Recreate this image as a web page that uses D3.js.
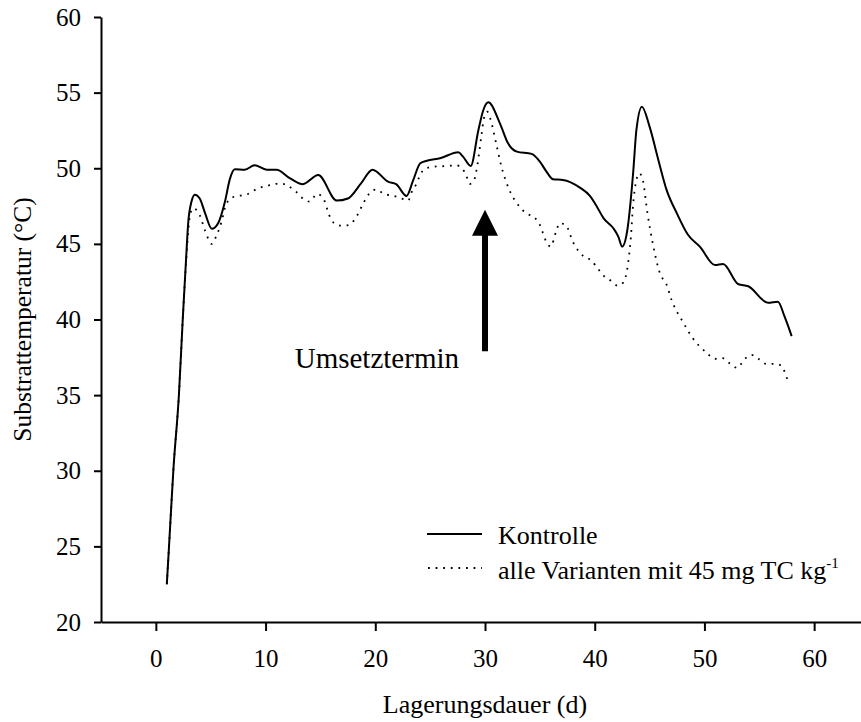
<!DOCTYPE html>
<html>
<head>
<meta charset="utf-8">
<script src="https://cdn.jsdelivr.net/npm/d3@7"></script>
<style>
  body { margin: 0; background: #fff; }
  svg text { font-family: "Liberation Serif", "Times New Roman", serif; fill: #000; }
</style>
</head>
<body>
<div id="chart"></div>
<script>
// Lagerungsdauer (d) / Substrattemperatur (°C)
var kontrolle = [
  [1.0,22.5],[1.2,25.0],[1.6,30.1],[2.1,35.0],[2.45,40.0],[2.8,44.6],[2.95,46.4],[3.25,47.8],
  [3.55,48.25],[4.0,48.0],[4.5,47.0],[5.1,46.0],[5.7,46.4],[6.3,47.8],[6.75,49.3],[7.2,49.93],
  [8.1,49.9],[9.0,50.2],[10.1,49.9],[11.0,49.9],[12.2,49.35],[13.4,48.95],[14.8,49.55],[16.5,47.86],
  [17.5,48.0],[18.7,49.0],[19.75,49.9],[21.2,49.1],[21.9,48.95],[22.85,48.17],[23.45,49.2],[24.1,50.33],
  [24.7,50.5],[25.9,50.66],[27.56,51.06],[28.0,50.77],[28.7,50.15],[29.4,52.53],[29.85,53.85],[30.3,54.36],
  [31.36,52.97],[32.1,51.65],[32.9,51.1],[34.25,50.95],[35.0,50.44],[35.6,49.78],[36.2,49.27],[37.1,49.23],
  [38.65,48.72],[39.56,48.17],[40.2,47.46],[40.8,46.7],[41.7,46.03],[42.15,45.48],[42.5,44.82],[42.97,45.9],
  [43.5,49.67],[43.8,52.53],[44.3,54.07],[45.0,52.75],[45.8,50.55],[46.55,48.57],[47.5,47.0],[48.5,45.6],
  [49.6,44.8],[50.96,43.6],[51.7,43.67],[53.1,42.33],[54.0,42.2],[55.8,41.1],[56.7,41.18],[57.3,40.2],
  [57.95,38.9]
];
var tc45 = [
  [1.0,22.5],[1.2,25.0],[1.6,30.1],[2.1,35.0],[2.45,40.0],[2.8,44.3],[2.95,45.8],[3.1,46.85],
  [3.4,47.36],[4.0,46.9],[4.47,45.9],[5.1,45.0],[5.5,45.5],[6.0,46.5],[6.4,47.6],[7.0,48.08],
  [8.4,48.3],[9.2,48.63],[10.5,48.9],[11.3,49.0],[12.7,48.5],[13.4,48.0],[14.0,47.8],[14.7,48.3],
  [15.3,47.95],[15.8,46.9],[16.2,46.4],[16.9,46.2],[17.6,46.25],[18.2,46.7],[18.96,47.75],[19.4,48.28],
  [20.1,48.6],[20.8,48.3],[21.5,48.2],[22.2,48.06],[23.0,47.86],[23.3,48.4],[23.7,48.9],[24.0,49.4],
  [24.4,49.9],[25.2,50.1],[26.6,50.15],[27.35,50.2],[27.96,49.95],[28.3,49.5],[28.6,48.96],[29.0,49.2],
  [29.3,50.2],[29.7,52.3],[29.9,53.3],[30.2,53.74],[30.5,53.24],[31.0,51.7],[31.5,50.1],[32.2,48.6],
  [33.1,47.5],[33.8,47.0],[34.5,46.76],[35.0,46.25],[35.55,45.2],[35.98,44.82],[36.5,45.86],[36.8,46.37],
  [37.4,46.2],[38.0,45.15],[38.95,44.2],[39.7,43.9],[40.3,43.35],[40.8,42.9],[41.5,42.55],[42.1,42.24],
  [42.6,42.44],[43.0,43.5],[43.3,45.5],[43.5,47.6],[43.8,49.23],[44.06,49.67],[44.4,49.16],[44.8,47.07],
  [45.3,45.0],[46.0,42.95],[46.5,42.4],[47.0,41.3],[48.07,39.8],[48.9,38.8],[49.5,38.27],[50.2,37.8],
  [50.96,37.4],[51.66,37.44],[52.3,37.1],[53.0,36.8],[53.6,37.33],[54.3,37.66],[54.96,37.38],[55.7,37.05],
  [56.4,37.07],[57.1,36.9],[57.4,36.33],[57.7,35.83]
];
var xTicks = [0,10,20,30,40,50,60];
var yTicks = [20,25,30,35,40,45,50,55,60];
var legendLabels = ["Kontrolle", "alle Varianten mit 45 mg TC kg"];
var umsetzTag = 30, umsetzVon = 37.9, umsetzBis = 47.25;

var width = 861, height = 722;
var svg = d3.select("#chart").append("svg")
    .attr("width", width).attr("height", height);

var xScale = d3.scaleLinear().domain([-5, 65]).range([101, 869]);
var yScale = d3.scaleLinear().domain([20, 60]).range([622, 17]);

var yAxis = d3.axisLeft(yScale).tickValues(yTicks).tickSize(7).tickSizeOuter(0).tickPadding(13);
var xAxis = d3.axisBottom(xScale).tickValues(xTicks).tickSize(9).tickSizeOuter(0).tickPadding(18);

var gx = svg.append("g")
    .attr("transform", "translate(0," + yScale(20) + ")")
    .call(xAxis);
var gy = svg.append("g")
    .attr("transform", "translate(" + xScale(-5) + ",0)")
    .call(yAxis);
[gx, gy].forEach(function(g){
    g.selectAll("path, line").attr("stroke", "#000").attr("stroke-width", 2);
    g.selectAll("text").attr("font-size", 25).attr("font-family", "Liberation Serif, serif");
});

svg.append("text")
    .attr("text-anchor", "middle")
    .attr("font-size", 26)
    .attr("x", 485).attr("y", 713)
    .text("Lagerungsdauer (d)");
svg.append("text")
    .attr("text-anchor", "middle")
    .attr("font-size", 25.5)
    .attr("transform", "translate(31," + ((17 + 622) / 2) + ") rotate(-90)")
    .text("Substrattemperatur (°C)");

var line = d3.line()
    .x(function(d){ return xScale(d[0]); })
    .y(function(d){ return yScale(d[1]); })
    .curve(d3.curveMonotoneX);

svg.append("path")
    .datum(tc45)
    .attr("fill", "none")
    .attr("stroke", "#000")
    .attr("stroke-width", 1.8)
    .attr("stroke-dasharray", "1.8,5.8")
    .attr("d", line);
svg.append("path")
    .datum(kontrolle)
    .attr("fill", "none")
    .attr("stroke", "#000")
    .attr("stroke-width", 2)
    .attr("stroke-linejoin", "round")
    .attr("d", line);

// Umsetztermin arrow
var ax = xScale(umsetzTag);
svg.append("line")
    .attr("x1", ax).attr("x2", ax)
    .attr("y1", yScale(umsetzVon)).attr("y2", yScale(umsetzBis) + 24)
    .attr("stroke", "#000").attr("stroke-width", 6);
svg.append("path")
    .attr("d", "M" + (ax - 13) + "," + (yScale(umsetzBis) + 26) + "L" + ax + "," + yScale(umsetzBis) + "L" + (ax + 13) + "," + (yScale(umsetzBis) + 26) + "Z")
    .attr("fill", "#000");
svg.append("text")
    .attr("text-anchor", "end")
    .attr("font-size", 29)
    .attr("x", ax - 26).attr("y", 368)
    .text("Umsetztermin");

// legend
var legend = svg.append("g");
legend.append("line")
    .attr("x1", 427).attr("x2", 482).attr("y1", 534).attr("y2", 534)
    .attr("stroke", "#000").attr("stroke-width", 2);
legend.append("line")
    .attr("x1", 428).attr("x2", 482).attr("y1", 568).attr("y2", 568)
    .attr("stroke", "#000").attr("stroke-width", 1.8).attr("stroke-dasharray", "1.8,5.8");
legend.append("text")
    .attr("x", 498).attr("y", 544).attr("font-size", 26)
    .text(legendLabels[0]);
var t2 = legend.append("text")
    .attr("x", 498).attr("y", 579).attr("font-size", 26)
    .text(legendLabels[1]);
t2.append("tspan")
    .attr("font-size", 15)
    .attr("dy", -11)
    .text("-1");
</script>
</body>
</html>
